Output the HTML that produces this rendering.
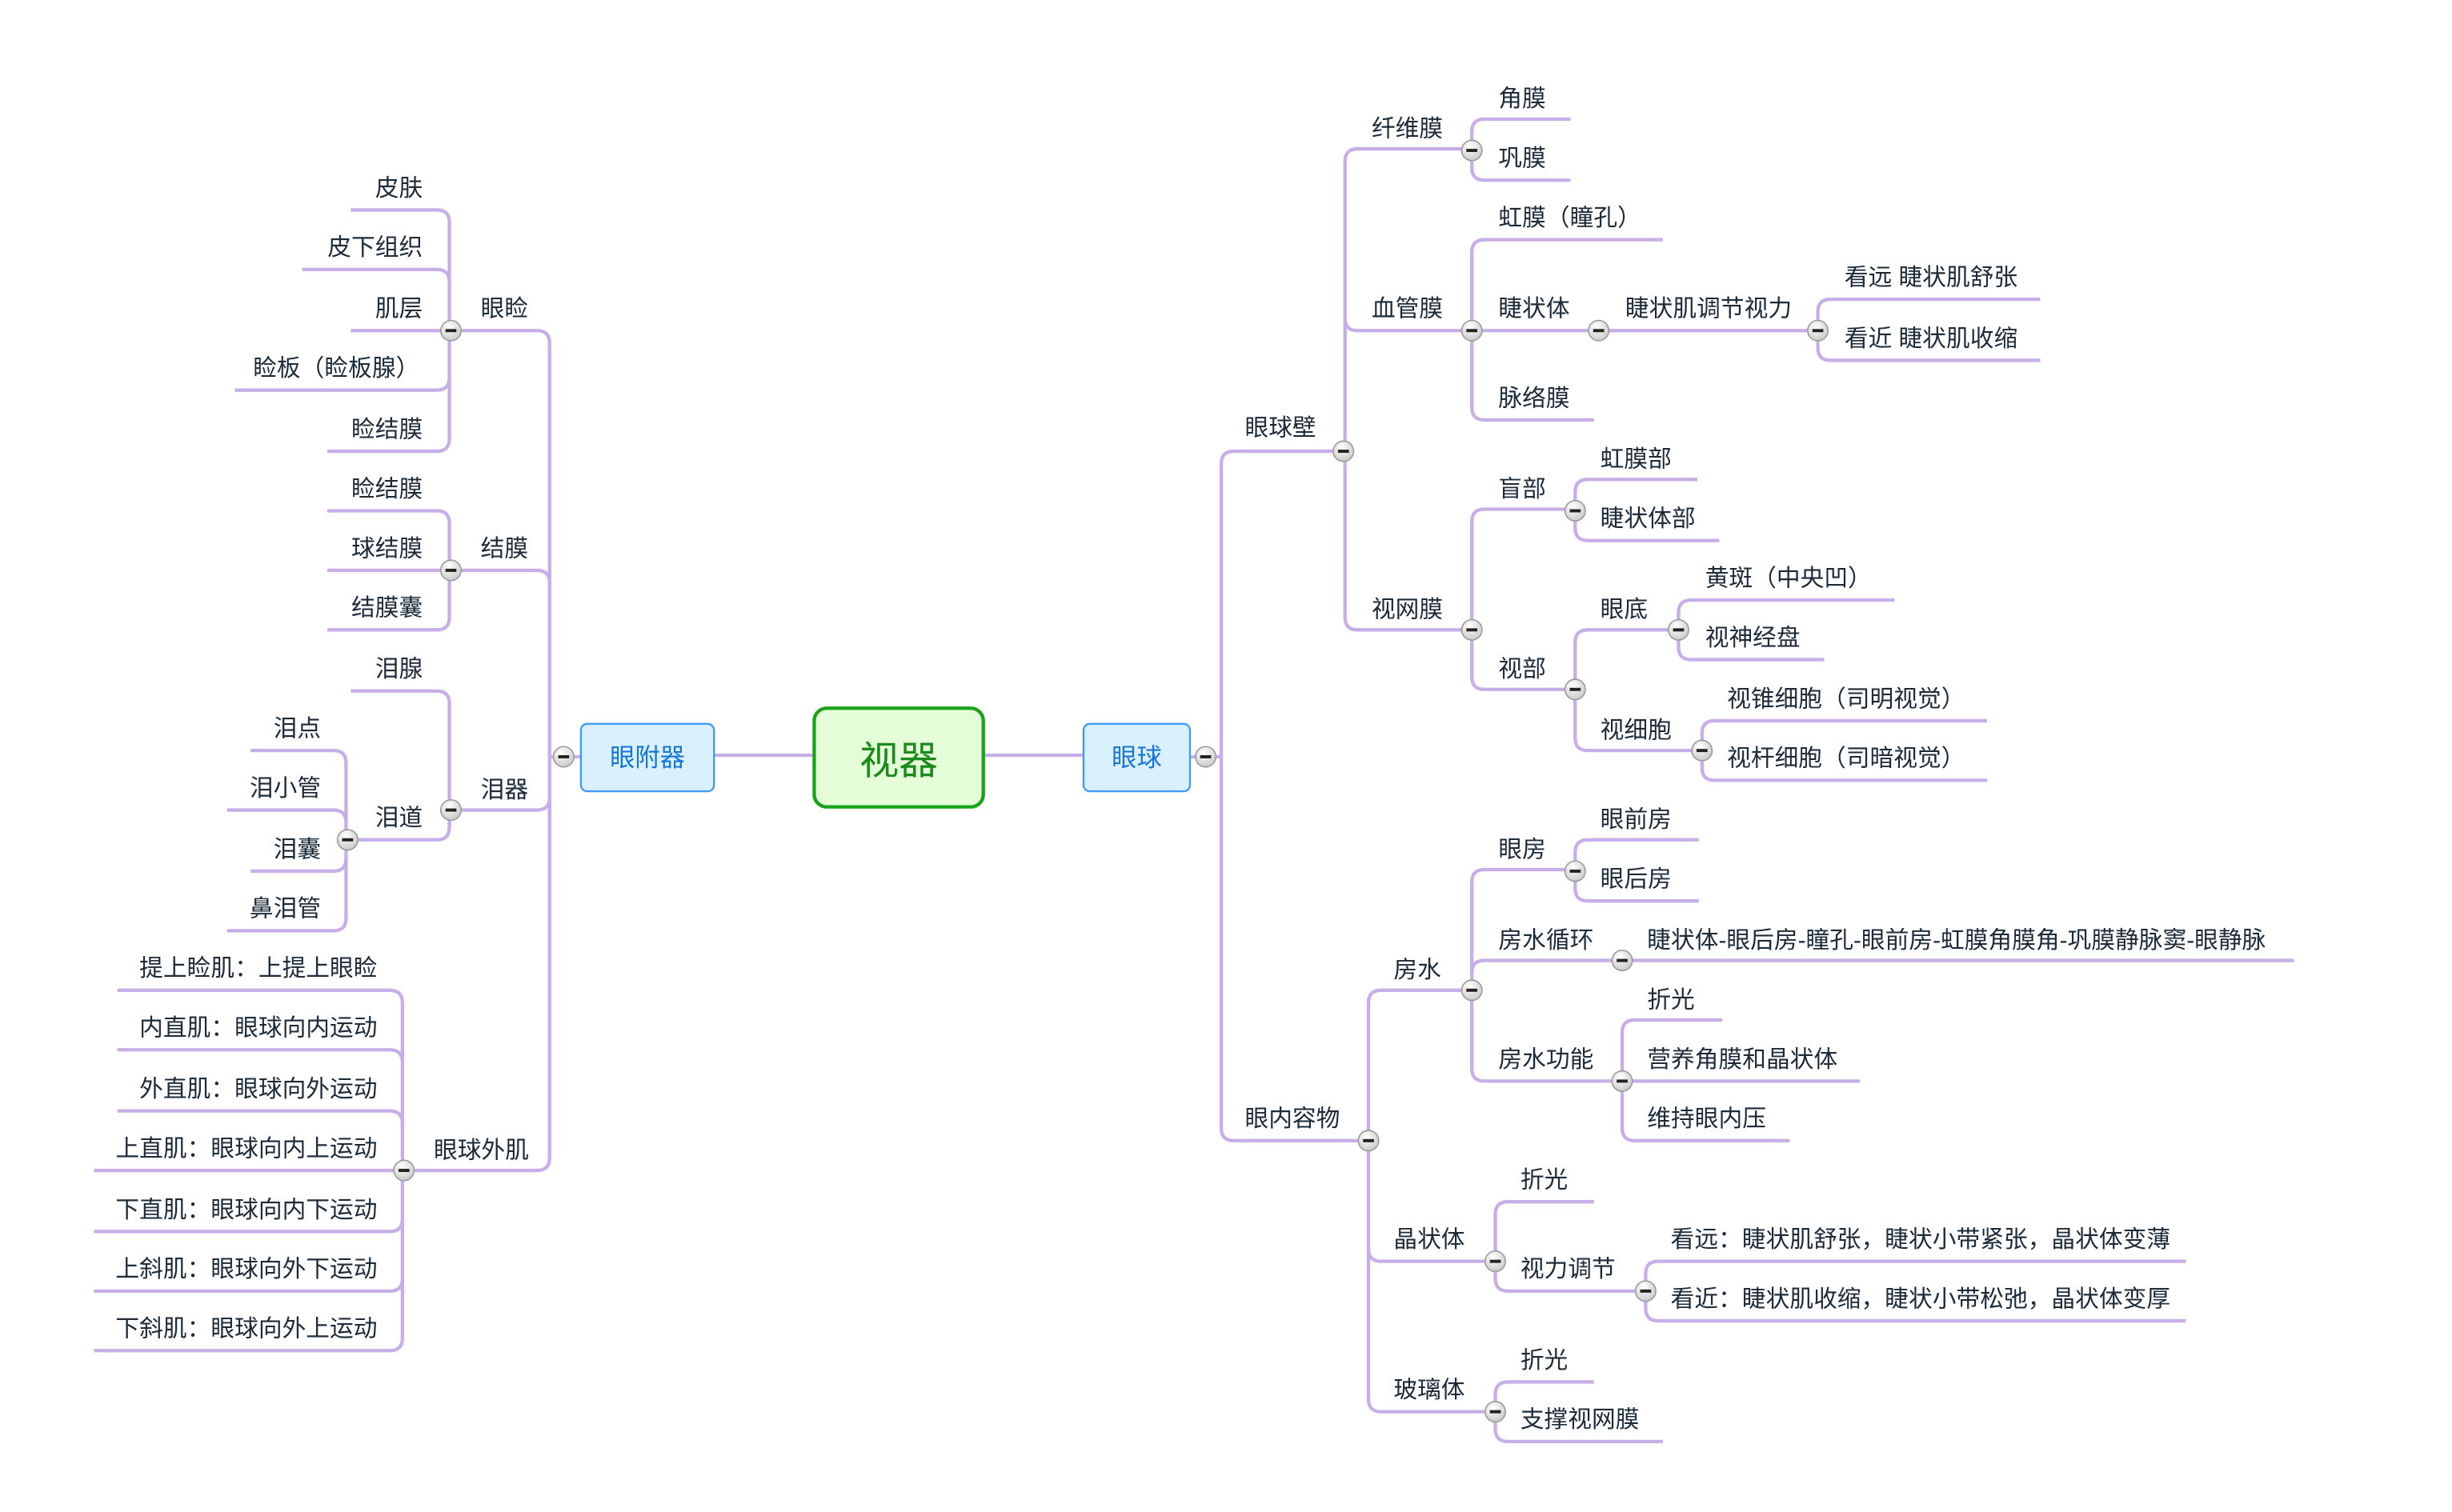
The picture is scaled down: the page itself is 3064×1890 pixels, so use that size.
<!DOCTYPE html>
<html><head><meta charset="utf-8"><style>
html,body{margin:0;padding:0;background:#fff;width:3064px;height:1890px;overflow:hidden}
svg text{font-family:"Liberation Sans","Noto Sans CJK SC",sans-serif;font-size:15.2px;fill:#1c2b3a}
.l{fill:none;stroke:#c8aee8;stroke-width:2.2}
.e{text-anchor:end}
</style></head><body>
<svg width="3064" height="1890" viewBox="0 0 1566 965" preserveAspectRatio="none" xmlns="http://www.w3.org/2000/svg">
<defs><radialGradient id="g" cx="0.4" cy="0.3" r="0.8"><stop offset="0" stop-color="#fff"/><stop offset="1" stop-color="#c4c4c4"/></radialGradient>
<g id="c"><circle r="6.5" fill="url(#g)" stroke="#9a9a9a" stroke-width="0.8"/><rect x="-3.5" y="-1" width="7" height="2" fill="#222"/></g></defs>
<g class="l">
<path d="M628 482H692M456 482H520M760 483H780M371 483H351"/>
<path d="M780 483V296Q780 288 788 288H858M780 483V720Q780 728 788 728H874"/>
<path d="M859 288V103Q859 95 867 95H940M859 288V203Q859 211 867 211H940M859 288V394Q859 402 867 402H940"/>
<path d="M940 96V84Q940 76 948 76H1003M940 96V107Q940 115 948 115H1003"/>
<path d="M940 211V161Q940 153 948 153H1062M940 211H1021M940 211V260Q940 268 948 268H1018"/>
<path d="M1021 211H1161M1161 211V199Q1161 191 1169 191H1303M1161 211V222Q1161 230 1169 230H1303"/>
<path d="M940 402V333Q940 325 948 325H1006M940 402V432Q940 440 948 440H1006"/>
<path d="M1006 326V314Q1006 306 1014 306H1084M1006 326V337Q1006 345 1014 345H1098"/>
<path d="M1006 440V410Q1006 402 1014 402H1072M1006 440V471Q1006 479 1014 479H1087"/>
<path d="M1072 402V391Q1072 383 1080 383H1210M1072 402V413Q1072 421 1080 421H1165"/>
<path d="M1087 479V468Q1087 460 1095 460H1269M1087 479V490Q1087 498 1095 498H1269"/>
<path d="M874 728V640Q874 632 882 632H940M874 728V797Q874 805 882 805H955M874 728V893Q874 901 882 901H955"/>
<path d="M940 632V563Q940 555 948 555H1006M940 632V621Q940 613 948 613H1036M940 632V682Q940 690 948 690H1036"/>
<path d="M1006 556V544Q1006 536 1014 536H1085M1006 556V567Q1006 575 1014 575H1085"/>
<path d="M1036 613H1465"/>
<path d="M1036 690V659Q1036 651 1044 651H1100M1036 690H1188M1036 690V720Q1036 728 1044 728H1143"/>
<path d="M955 805V775Q955 767 963 767H1018M955 805V816Q955 824 963 824H1051"/>
<path d="M1051 824V813Q1051 805 1059 805H1396M1051 824V835Q1051 843 1059 843H1396"/>
<path d="M955 901V890Q955 882 963 882H1018M955 901V912Q955 920 963 920H1062"/>
<path d="M351 483V219Q351 211 343 211H288M351 483V372Q351 364 343 364H288M351 483V509Q351 517 343 517H288M351 483V739Q351 747 343 747H258"/>
<path d="M287 211V142Q287 134 279 134H224M287 211V180Q287 172 279 172H193M287 211H224M287 211V241Q287 249 279 249H150M287 211V280Q287 288 279 288H209"/>
<path d="M287 364V334Q287 326 279 326H209M287 364H209M287 364V394Q287 402 279 402H209"/>
<path d="M287 517V449Q287 441 279 441H224M287 517V528Q287 536 279 536H222"/>
<path d="M221 536V487Q221 479 213 479H160M221 536V525Q221 517 213 517H145M221 536V548Q221 556 213 556H160M221 536V586Q221 594 213 594H145"/>
<path d="M257 747V640Q257 632 249 632H75M257 747V678Q257 670 249 670H75M257 747V717Q257 709 249 709H75M257 747H60M257 747V778Q257 786 249 786H60M257 747V816Q257 824 249 824H60M257 747V854Q257 862 249 862H60"/>
</g>
<rect x="520" y="452" width="108" height="63" rx="8" fill="#e4fdd8" stroke="#19a319" stroke-width="2.2"/>
<text x="574" y="494" text-anchor="middle" style="font-size:25px;fill:#1a8a1a">视器</text>
<rect x="692" y="462" width="68" height="43" rx="4" fill="#d8f0ff" stroke="#3f9bf5" stroke-width="1.2"/>
<text x="726" y="489" text-anchor="middle" style="font-size:16px;fill:#1874d2">眼球</text>
<rect x="371" y="462" width="85" height="43" rx="4" fill="#d8f0ff" stroke="#3f9bf5" stroke-width="1.2"/>
<text x="413.5" y="489" text-anchor="middle" style="font-size:16px;fill:#1874d2">眼附器</text>
<use href="#c" x="770" y="483"/><use href="#c" x="360" y="483"/>
<use href="#c" x="858" y="288"/><use href="#c" x="940" y="96"/><use href="#c" x="940" y="211"/><use href="#c" x="1021" y="211"/><use href="#c" x="1161" y="211"/>
<use href="#c" x="940" y="402"/><use href="#c" x="1006" y="326"/><use href="#c" x="1006" y="440"/><use href="#c" x="1072" y="402"/><use href="#c" x="1087" y="479"/>
<use href="#c" x="874" y="728"/><use href="#c" x="940" y="632"/><use href="#c" x="1006" y="556"/><use href="#c" x="1036" y="613"/><use href="#c" x="1036" y="690"/>
<use href="#c" x="955" y="805"/><use href="#c" x="1051" y="824"/><use href="#c" x="955" y="901"/>
<use href="#c" x="288" y="211"/><use href="#c" x="288" y="364"/><use href="#c" x="288" y="517"/><use href="#c" x="222" y="536"/><use href="#c" x="258" y="747"/>
<g>
<text x="795" y="278">眼球壁</text><text x="795" y="719">眼内容物</text>
<text x="876" y="87">纤维膜</text><text x="876" y="202">血管膜</text><text x="876" y="394">视网膜</text>
<text x="957" y="68">角膜</text><text x="957" y="106">巩膜</text>
<text x="957" y="144">虹膜（瞳孔）</text><text x="957" y="202">睫状体</text><text x="957" y="259">脉络膜</text>
<text x="1038" y="202">睫状肌调节视力</text>
<text x="1178" y="182">看远 睫状肌舒张</text><text x="1178" y="221">看近 睫状肌收缩</text>
<text x="957" y="317">盲部</text><text x="957" y="432">视部</text>
<text x="1022" y="298">虹膜部</text><text x="1022" y="336">睫状体部</text>
<text x="1022" y="394">眼底</text><text x="1022" y="471">视细胞</text>
<text x="1089" y="374">黄斑（中央凹）</text><text x="1089" y="412">视神经盘</text>
<text x="1103" y="451">视锥细胞（司明视觉）</text><text x="1103" y="489">视杆细胞（司暗视觉）</text>
<text x="890" y="624">房水</text><text x="890" y="796">晶状体</text><text x="890" y="892">玻璃体</text>
<text x="957" y="547">眼房</text><text x="957" y="605">房水循环</text><text x="957" y="681">房水功能</text>
<text x="1022" y="528">眼前房</text><text x="1022" y="566">眼后房</text>
<text x="1052" y="605">睫状体-眼后房-瞳孔-眼前房-虹膜角膜角-巩膜静脉窦-眼静脉</text>
<text x="1052" y="643">折光</text><text x="1052" y="681">营养角膜和晶状体</text><text x="1052" y="719">维持眼内压</text>
<text x="971" y="758">折光</text><text x="971" y="815">视力调节</text>
<text x="1067" y="796">看远：睫状肌舒张，睫状小带紧张，晶状体变薄</text><text x="1067" y="834">看近：睫状肌收缩，睫状小带松弛，晶状体变厚</text>
<text x="971" y="873">折光</text><text x="971" y="911">支撑视网膜</text>
<text x="307" y="202">眼睑</text><text x="307" y="355">结膜</text><text x="307" y="509">泪器</text><text x="277" y="739">眼球外肌</text>
<text class="e" x="270" y="125">皮肤</text><text class="e" x="270" y="163">皮下组织</text><text class="e" x="270" y="202">肌层</text><text class="e" x="268" y="240">睑板（睑板腺）</text><text class="e" x="270" y="279">睑结膜</text>
<text class="e" x="270" y="317">睑结膜</text><text class="e" x="270" y="355">球结膜</text><text class="e" x="270" y="393">结膜囊</text>
<text class="e" x="270" y="432">泪腺</text><text class="e" x="270" y="527">泪道</text>
<text class="e" x="205" y="470">泪点</text><text class="e" x="205" y="508">泪小管</text><text class="e" x="205" y="547">泪囊</text><text class="e" x="205" y="585">鼻泪管</text>
<text class="e" x="241" y="623">提上睑肌：上提上眼睑</text><text class="e" x="241" y="661">内直肌：眼球向内运动</text><text class="e" x="241" y="700">外直肌：眼球向外运动</text>
<text class="e" x="241" y="738">上直肌：眼球向内上运动</text><text class="e" x="241" y="777">下直肌：眼球向内下运动</text><text class="e" x="241" y="815">上斜肌：眼球向外下运动</text><text class="e" x="241" y="853">下斜肌：眼球向外上运动</text>
</g>
</svg>
</body></html>
